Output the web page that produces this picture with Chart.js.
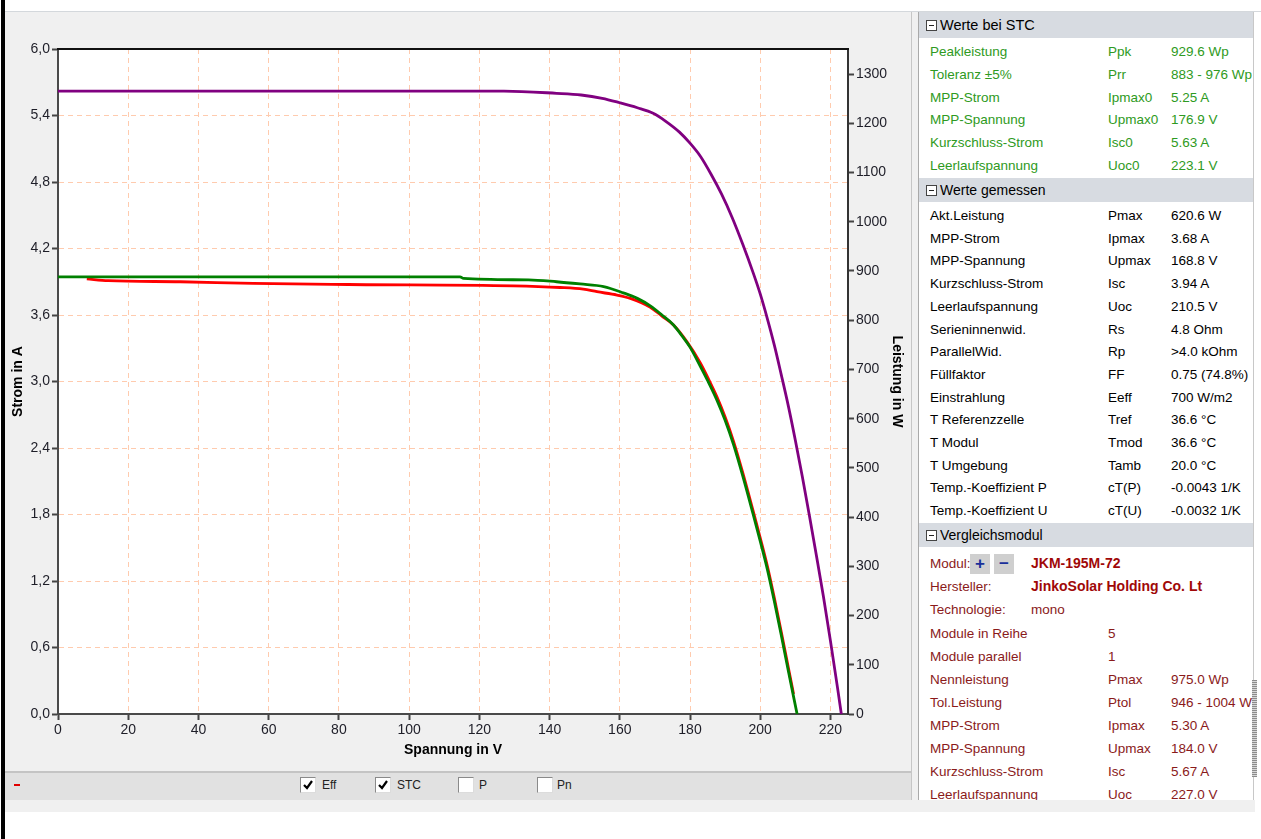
<!DOCTYPE html>
<html>
<head>
<meta charset="utf-8">
<script src="https://cdn.jsdelivr.net/npm/chart.js@4"></script>
<style>
body { margin: 0; width: 1261px; height: 839px; background: #fff; position: relative; overflow: hidden; font-family: 'Liberation Sans', Arial, sans-serif; }
.abs { position: absolute; }
#edge { left: 1px; top: 0; width: 4px; height: 839px; background: #000; }
#topline { left: 5px; top: 11px; width: 1256px; height: 1px; background: #d4d8dc; }
#pane { left: 5px; top: 12px; width: 906px; height: 760px; background: #f0f0f0; }
#chartCanvas { position: absolute; left: 5px; top: 12px; }
#legendBar { left: 5px; top: 771px; width: 906px; height: 29px; background: #e1e1e1; border-top: 2px solid #c4c4c4; box-sizing: border-box; font-size: 12px; color: #222; }
#under { left: 5px; top: 800px; width: 1250px; height: 12px; background: #f0f0f0; }
.cb { position: absolute; top: 4px; width: 14px; height: 14px; background: #fff; border: 1px solid #8a8a8a; border-right-color: #dcdcdc; border-bottom-color: #dcdcdc; }
.cb svg { position: absolute; left: 1px; top: 1px; }
.cbl { position: absolute; top: 5px; }
#sep1 { left: 911px; top: 12px; width: 1px; height: 788px; background: #c6c6c6; }
#sep2 { left: 918px; top: 12px; width: 1px; height: 788px; background: #a9a9a9; }
#gap { left: 912px; top: 12px; width: 6px; height: 788px; background: #f0f0f0; }
#panel { left: 919px; top: 12px; width: 334px; height: 788px; background: #fff; overflow: hidden; font-size: 13.5px; }
#scroll { left: 1253px; top: 12px; width: 1px; height: 788px; background: #c8c8c8; }
#thumb { left: 1252px; top: 680px; width: 5px; height: 97px; background: repeating-linear-gradient(0deg, #8c8c8c 0 1px, #d8d8d8 1px 2px); }
.hdr { position: absolute; left: 0; width: 334px; background: #d7dbe1; color: #000; }
.hdr .ic { position: absolute; left: 7px; width: 9px; height: 9px; border: 1px solid #444; background: #fff; }
.hdr .ic::after { content: ''; position: absolute; left: 2px; top: 4px; width: 5px; height: 1px; background: #222; }
.hdr .tx { position: absolute; left: 21px; }
.row { position: absolute; left: 0; width: 334px; height: 23px; line-height: 23px; white-space: nowrap; }
.row span { position: absolute; }
.c1 { left: 11px; } .c2 { left: 189px; } .c3 { left: 252px; }
.stc { color: #2e9a22; } .meas { color: #000; } .cmp { color: #8a1a1a; }
.btn { position: absolute; top: 4px; width: 20px; height: 20px; background: #cfcfcf; color: #1a2f9a; font-weight: bold; text-align: center; line-height: 19px; font-size: 17px; }
</style>
</head>
<body>
<div id="edge" class="abs"></div>
<div id="topline" class="abs"></div>
<div id="pane" class="abs"></div>
<canvas id="chartCanvas" width="905" height="759"></canvas>
<div id="legendBar" class="abs">
  <div class="abs" style="left:9px;top:11px;width:6px;height:2px;background:#e00000;"></div>
  <div class="cb" style="left:295px"><svg width="12" height="12"><path d="M2 6 L5 9 L10 2" stroke="#000" stroke-width="2.2" fill="none"/></svg></div>
  <div class="cbl" style="left:317px">Eff</div>
  <div class="cb" style="left:370px"><svg width="12" height="12"><path d="M2 6 L5 9 L10 2" stroke="#000" stroke-width="2.2" fill="none"/></svg></div>
  <div class="cbl" style="left:392px">STC</div>
  <div class="cb" style="left:453px"></div>
  <div class="cbl" style="left:474px">P</div>
  <div class="cb" style="left:532px"></div>
  <div class="cbl" style="left:552px">Pn</div>
</div>
<div id="under" class="abs"></div>
<div id="sep1" class="abs"></div>
<div id="gap" class="abs"></div>
<div id="sep2" class="abs"></div>
<div id="panel" class="abs"></div>
<div id="scroll" class="abs"></div>
<div id="thumb" class="abs"></div>

<script>
// STC-Kennlinie (lila)
const stcU = [0, 127, 142, 149, 155, 160, 165, 169.5, 173, 177, 180, 183, 186, 189, 192, 195, 198, 200, 202, 204, 206, 208, 210, 212, 214, 216, 218, 220, 222, 223.1];
const stcI = [5.62, 5.62, 5.60, 5.585, 5.555, 5.515, 5.47, 5.42, 5.35, 5.25, 5.15, 5.03, 4.87, 4.69, 4.48, 4.24, 3.98, 3.79, 3.57, 3.33, 3.06, 2.78, 2.47, 2.14, 1.79, 1.43, 1.06, 0.66, 0.24, 0];

// Eff-Kennlinie (gruen)
const effU = [0, 114.5, 115.5, 134, 142, 148.7, 155.4, 161, 165, 168.8, 172, 175.3, 178, 180, 182.9, 185, 187.7, 190, 192.4, 195, 198, 200, 202, 204, 206, 208, 210.5];
const effI = [3.944, 3.944, 3.93, 3.917, 3.90, 3.88, 3.857, 3.80, 3.75, 3.68, 3.60, 3.51, 3.40, 3.31, 3.14, 3.01, 2.83, 2.65, 2.43, 2.15, 1.80, 1.56, 1.31, 1.02, 0.71, 0.39, 0];

// gemessene Kennlinie (rot)
const measU = [8.2, 14.3, 34.8, 55.6, 82.6, 129.7, 143, 149.6, 153.5, 159.2, 163, 168.7, 172, 175.3, 179.1, 182.9, 185, 187.7, 190, 192.4, 195, 198, 200, 202, 204, 206, 208, 209.5];
const measI = [3.925, 3.91, 3.90, 3.885, 3.875, 3.863, 3.848, 3.833, 3.81, 3.78, 3.75, 3.67, 3.59, 3.51, 3.36, 3.17, 3.04, 2.86, 2.68, 2.46, 2.18, 1.83, 1.59, 1.34, 1.05, 0.74, 0.42, 0.18];

// Achsen
const uMax = 225;
const iMax = 6.0;
const pMax = 1351;

// Tabelle rechts
const stcRows = [
  ['Peakleistung', 'Ppk', '929.6 Wp'],
  ['Toleranz \u00b15%', 'Prr', '883 - 976 Wp'],
  ['MPP-Strom', 'Ipmax0', '5.25 A'],
  ['MPP-Spannung', 'Upmax0', '176.9 V'],
  ['Kurzschluss-Strom', 'Isc0', '5.63 A'],
  ['Leerlaufspannung', 'Uoc0', '223.1 V']
];
const measRows = [
  ['Akt.Leistung', 'Pmax', '620.6 W'],
  ['MPP-Strom', 'Ipmax', '3.68 A'],
  ['MPP-Spannung', 'Upmax', '168.8 V'],
  ['Kurzschluss-Strom', 'Isc', '3.94 A'],
  ['Leerlaufspannung', 'Uoc', '210.5 V'],
  ['Serieninnenwid.', 'Rs', '4.8 Ohm'],
  ['ParallelWid.', 'Rp', '>4.0 kOhm'],
  ['F\u00fcllfaktor', 'FF', '0.75 (74.8%)'],
  ['Einstrahlung', 'Eeff', '700 W/m2'],
  ['T Referenzzelle', 'Tref', '36.6 \u00b0C'],
  ['T Modul', 'Tmod', '36.6 \u00b0C'],
  ['T Umgebung', 'Tamb', '20.0 \u00b0C'],
  ['Temp.-Koeffizient P', 'cT(P)', '-0.0043 1/K'],
  ['Temp.-Koeffizient U', 'cT(U)', '-0.0032 1/K']
];
const cmpRows = [
  ['Module in Reihe', '5', ''],
  ['Module parallel', '1', ''],
  ['Nennleistung', 'Pmax', '975.0 Wp'],
  ['Tol.Leistung', 'Ptol', '946 - 1004 Wp'],
  ['MPP-Strom', 'Ipmax', '5.30 A'],
  ['MPP-Spannung', 'Upmax', '184.0 V'],
  ['Kurzschluss-Strom', 'Isc', '5.67 A'],
  ['Leerlaufspannung', 'Uoc', '227.0 V']
];

// --- Tabelle aufbauen
const panel = document.getElementById('panel');
function header(top, h, text, size) {
  const d = document.createElement('div');
  d.className = 'hdr';
  d.style.top = top + 'px';
  d.style.height = h + 'px';
  d.innerHTML = '<div class="ic" style="top:' + ((h - 11) / 2) + 'px"></div><div class="tx" style="line-height:' + h + 'px;font-size:' + size + 'px"></div>';
  d.querySelector('.tx').textContent = text;
  panel.appendChild(d);
}
function rows(list, top, step, cls) {
  list.forEach(function(r, k) {
    const d = document.createElement('div');
    d.className = 'row ' + cls;
    d.style.top = (top + k * step) + 'px';
    ['c1', 'c2', 'c3'].forEach(function(c, j) {
      const s = document.createElement('span');
      s.className = c;
      s.textContent = r[j];
      d.appendChild(s);
    });
    panel.appendChild(d);
  });
}
header(0, 26, 'Werte bei STC', 14.5);
rows(stcRows, 28, 22.8, 'stc');
header(166, 24, 'Werte gemessen', 14);
rows(measRows, 192, 22.7, 'meas');
header(511, 24, 'Vergleichsmodul', 14);

const modul = document.createElement('div');
modul.className = 'row cmp';
modul.style.top = '538px';
modul.style.height = '27px';
modul.style.lineHeight = '27px';
modul.innerHTML = '<span class="c1">Modul:</span><div class="btn" style="left:51px">+</div><div class="btn" style="left:75px">\u2212</div>' +
  '<span style="left:112px;font-weight:bold;color:#a00808;font-size:14px">JKM-195M-72</span>';
panel.appendChild(modul);
const herst = document.createElement('div');
herst.className = 'row cmp';
herst.style.top = '563px';
herst.innerHTML = '<span class="c1">Hersteller:</span><span style="left:112px;font-weight:bold;color:#a00808;font-size:14px">JinkoSolar Holding Co. Lt</span>';
panel.appendChild(herst);
const tech = document.createElement('div');
tech.className = 'row cmp';
tech.style.top = '586px';
tech.innerHTML = '<span class="c1">Technologie:</span><span style="left:112px">mono</span>';
panel.appendChild(tech);
rows(cmpRows, 609.5, 23, 'cmp');

// --- Diagramm
const toPoints = (u, i) => u.map((v, k) => ({ x: v, y: i[k] }));

const plotBackground = {
  id: 'plotBackground',
  beforeDraw(chart) {
    const { ctx, chartArea: a } = chart;
    ctx.save();
    ctx.fillStyle = '#ffffff';
    ctx.fillRect(a.left, a.top, a.right - a.left, a.bottom - a.top);
    ctx.restore();
  },
  afterDraw(chart) {
    const { ctx, chartArea: a } = chart;
    ctx.save();
    ctx.strokeStyle = '#111';
    ctx.lineWidth = 2;
    ctx.beginPath();
    ctx.moveTo(a.left - 1, a.top);
    ctx.lineTo(a.right + 1, a.top);
    ctx.stroke();
    ctx.restore();
  }
};

Chart.defaults.font.family = "'Liberation Sans', Arial, sans-serif";

const gridColor = '#ffcbae';
const tickFont = { size: 14 };
const titleFont = { size: 14, weight: 'bold' };

new Chart(document.getElementById('chartCanvas').getContext('2d'), {
  type: 'scatter',
  data: {
    datasets: [
      { label: 'Eff', data: toPoints(effU, effI), borderColor: '#008000', borderWidth: 2.8, showLine: true, pointRadius: 0, cubicInterpolationMode: 'monotone', yAxisID: 'y' },
      { label: 'Messung', data: toPoints(measU, measI), borderColor: '#ff0000', borderWidth: 2.8, showLine: true, pointRadius: 0, cubicInterpolationMode: 'monotone', yAxisID: 'y' },
      { label: 'STC', data: toPoints(stcU, stcI), borderColor: '#800080', borderWidth: 2.8, showLine: true, pointRadius: 0, cubicInterpolationMode: 'monotone', yAxisID: 'y' }
    ]
  },
  options: {
    responsive: false,
    animation: false,
    layout: { padding: { top: 37, left: 0, right: 0, bottom: 0 } },
    plugins: { legend: { display: false }, tooltip: { enabled: false } },
    scales: {
      x: {
        type: 'linear', position: 'bottom', min: 0, max: uMax,
        afterFit: function(scale) { scale.height = 57; },
        ticks: { stepSize: 20, includeBounds: false, color: '#1e1e28', font: tickFont, padding: 2, maxRotation: 0, callback: v => String(v) },
        grid: { color: gridColor, lineWidth: 1, tickLength: 6, tickColor: '#444', tickWidth: 2 },
        border: { color: '#4a4a4a', width: 2, dash: [5, 4] },
        title: { display: true, text: 'Spannung in V', color: '#000', font: titleFont, padding: { top: 0, bottom: 12 } }
      },
      y: {
        type: 'linear', position: 'left', min: 0, max: iMax,
        afterFit: function(scale) { scale.width = 53; },
        ticks: { stepSize: 0.6, color: '#1e1e28', font: tickFont, padding: 2, callback: v => v.toFixed(1).replace('.', ',') },
        grid: { color: gridColor, lineWidth: 1, tickLength: 6, tickColor: '#444', tickWidth: 2 },
        border: { color: '#4a4a4a', width: 2, dash: [5, 4] },
        title: { display: true, text: 'Strom in A', color: '#000', font: titleFont, padding: { top: 5, bottom: 0 } }
      },
      y1: {
        type: 'linear', position: 'right', min: 0, max: pMax,
        afterFit: function(scale) { scale.width = 62; },
        ticks: { stepSize: 100, includeBounds: false, color: '#1e1e28', font: tickFont, padding: 2, callback: v => String(v) },
        grid: { display: true, drawOnChartArea: false, tickLength: 6, tickColor: '#444', tickWidth: 2 },
        border: { color: '#333', width: 2 },
        title: { display: true, text: 'Leistung in W', color: '#000', font: titleFont, padding: { top: 5, bottom: 0 } }
      }
    }
  },
  plugins: [plotBackground]
});
</script>
</body>
</html>
